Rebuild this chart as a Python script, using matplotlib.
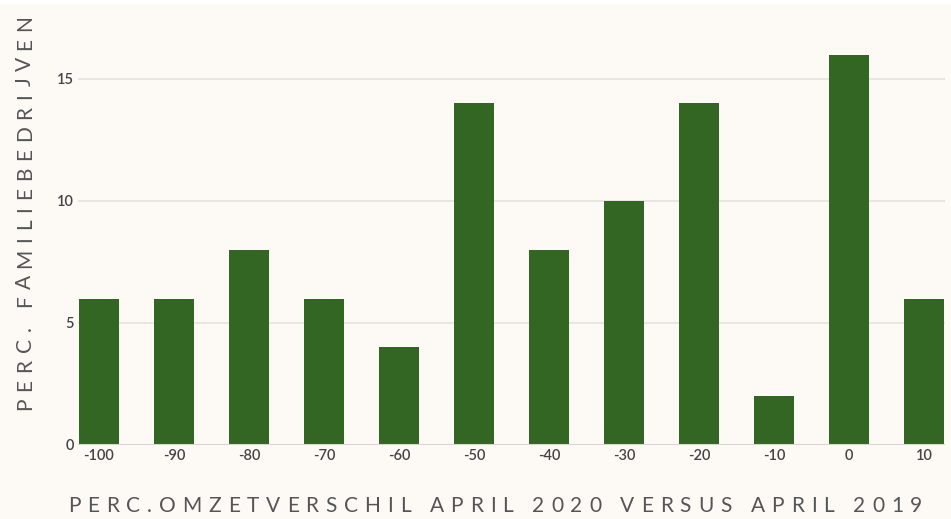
import matplotlib
matplotlib.use("Agg")
import matplotlib.pyplot as plt
from matplotlib.patches import Rectangle

categories = [-100, -90, -80, -70, -60, -50, -40, -30, -20, -10, 0, 10]
values = [6, 6, 8, 6, 4, 14, 8, 10, 14, 2, 16, 6]
y_ticks = [0, 5, 10, 15]
x_label = "PERC.OMZETVERSCHIL APRIL 2020 VERSUS APRIL 2019"
y_label = "PERC. FAMILIEBEDRIJVEN"

BG = "#fdfaf5"
BAR = "#336622"
W, H = 951, 519
plt.rcParams['font.family'] = ['Lato', 'DejaVu Sans']
fig = plt.figure(figsize=(W / 100, H / 100), dpi=100, facecolor=BG)

ax = fig.add_axes([78 / W, (H - 445) / H, (945 - 78) / W, 445 / H])
ax.set_facecolor(BG)
ax.bar(categories, values, width=5.33, color=BAR, zorder=3)
ax.set_xlim(-102.8, 12.8)
ax.set_ylim(0, 445 / 24.4)
ax.set_yticks(y_ticks)
ax.set_xticks(categories)
ax.set_xticklabels([str(c) for c in categories])
ax.yaxis.grid(True, color="#e6e3de", linewidth=1.2, zorder=0)
ax.axhline(0, color="#d8d5d0", linewidth=1.5, zorder=4)
for s in ax.spines.values():
    s.set_visible(False)
ax.tick_params(axis="both", length=0, labelsize=10.5, colors="#444444")
for lab in ax.get_xticklabels() + ax.get_yticklabels():
    lab.set_fontweight("semibold")
ax.tick_params(axis="x", pad=3)
ax.tick_params(axis="y", pad=3)

renderer = fig.canvas.get_renderer()


def tracked(text, start, end, cross, vertical, size, color):
    # measure glyph widths
    widths = []
    for ch in text:
        if ch == " ":
            widths.append(size * 0.35)
            continue
        t = fig.text(0, 0, ch, fontsize=size)
        widths.append(t.get_window_extent(renderer).width)
        t.remove()
    total = sum(widths)
    n = len(text)
    track = ((end - start) - total) / (n - 1)
    pos = start
    for ch, w in zip(text, widths):
        c = pos + w / 2
        if ch != " ":
            if vertical:
                fig.text(cross / W, 1 - c / H, ch, fontsize=size, color=color,
                         rotation=90, ha="center", va="center")
            else:
                fig.text(c / W, 1 - cross / H, ch, fontsize=size, color=color,
                         ha="center", va="baseline")
        pos += w + track


tracked(x_label, 68, 922, 512, False, 15, "#555555")
tracked(y_label[::-1], 15, 410, 25, True, 15, "#555555")

fig.add_artist(Rectangle((0, 1 - 4 / H), 1, 4 / H, transform=fig.transFigure,
                         facecolor="white", edgecolor="none", zorder=10))

fig.savefig("out.png", dpi=100, facecolor=BG)
